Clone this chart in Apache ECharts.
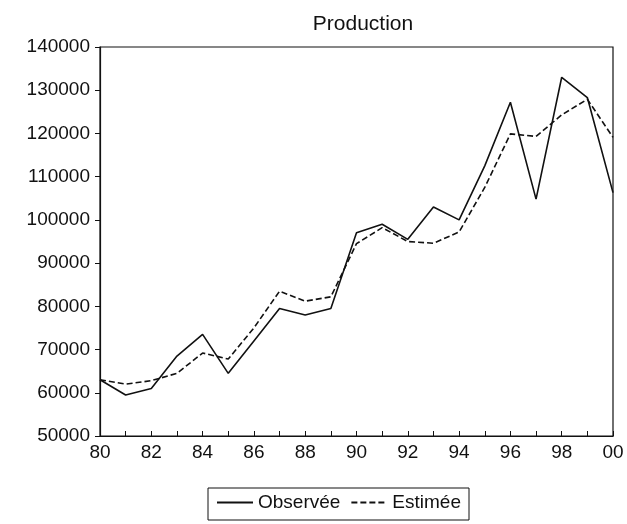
<!DOCTYPE html>
<html><head><meta charset="utf-8">
<script src="https://cdn.jsdelivr.net/npm/echarts@6/dist/echarts.min.js"></script>
<style>html,body{margin:0;padding:0;background:#fff}#c{width:627px;height:524px}</style>
</head><body><div id="c"></div>
<script>
const years = ["80","81","82","83","84","85","86","87","88","89","90","91","92","93","94","95","96","97","98","99","00"];
const observee = [63000, 59500, 61000, 68500, 73500, 64500, 72000, 79500, 78000, 79500, 97000, 99000, 95500, 103000, 100000, 112500, 127200, 104800, 133000, 128300, 106300];
const estimee = [63000, 62000, 62800, 64500, 69200, 67800, 75000, 83500, 81200, 82200, 94500, 98200, 95000, 94600, 97200, 107500, 119900, 119300, 124300, 127900, 119100];
const titleText = "Production";
const seriesNames = ["Observée", "Estimée"];

const font = "Liberation Sans, Arial, sans-serif";
const chart = echarts.init(document.getElementById('c'), null, {renderer: 'canvas'});
chart.setOption({
  animation: false,
  backgroundColor: '#fff',
  title: {text: titleText, left: 358, top: 9, textAlign: 'center',
    textStyle: {fontFamily: font, fontSize: 21, fontWeight: 'normal', color: '#111'}},
  grid: {left: 100, right: 14, top: 47, bottom: 88, show: true, borderColor: '#111', borderWidth: 1.2, backgroundColor: 'transparent'},
  xAxis: {type: 'category', data: years, boundaryGap: false,
    axisLine: {lineStyle: {color: '#111', width: 1.2}},
    axisTick: {show: true, inside: true, length: 5, interval: 0, lineStyle: {color: '#111'}},
    axisLabel: {interval: 1, margin: 7, fontFamily: font, fontSize: 19, color: '#111'},
    splitLine: {show: false}},
  yAxis: {type: 'value', min: 50000, max: 140000, interval: 10000,
    axisLine: {show: true, lineStyle: {color: '#111', width: 1.2}},
    axisTick: {show: true, inside: false, length: 5, lineStyle: {color: '#111'}},
    axisLabel: {margin: 10, fontFamily: font, fontSize: 19, color: '#111', formatter: v => String(v)},
    splitLine: {show: false}},
  legend: {left: 208, top: 488, data: seriesNames, borderColor: '#111', borderWidth: 1,
    padding: [5, 8, 8, 8], itemWidth: 36, itemHeight: 10, itemGap: 10,
    itemStyle: {color: 'transparent', borderWidth: 0},
    textStyle: {fontFamily: font, fontSize: 19, color: '#111'}},
  series: [
    {name: seriesNames[0], type: 'line', data: observee, symbol: 'none', showSymbol: false,
      lineStyle: {color: '#111', width: 1.6, type: 'solid'}, itemStyle: {color: '#111'}},
    {name: seriesNames[1], type: 'line', data: estimee, symbol: 'none', showSymbol: false,
      lineStyle: {color: '#111', width: 1.6, type: [6, 3]}, itemStyle: {color: '#111'}}
  ]
});
</script></body></html>
